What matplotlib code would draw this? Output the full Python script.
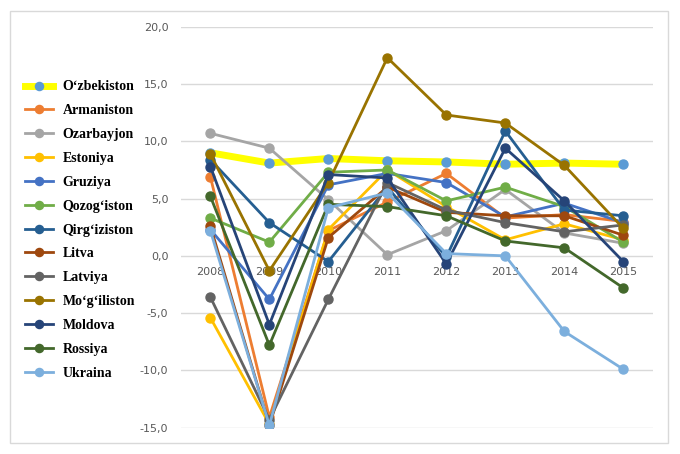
import numpy as np
import matplotlib.pyplot as plt
from matplotlib.patches import Rectangle
from matplotlib.ticker import FuncFormatter
from matplotlib.transforms import offset_copy

years = ['2008', '2009', '2010', '2011', '2012', '2013', '2014', '2015']

countries = ['O‘zbekiston', 'Armaniston', 'Ozarbayjon', 'Estoniya', 'Gruziya',
             'Qozog‘iston', 'Qirg‘iziston', 'Litva', 'Latviya', 'Mo‘g‘iliston',
             'Moldova', 'Rossiya', 'Ukraina']

uzb = [9.0, 8.1, 8.5, 8.3, 8.2, 8.0, 8.1, 8.0]
arm = [6.9, -14.1, 2.2, 4.7, 7.2, 3.3, 3.6, 3.0]
aze = [10.7, 9.4, 4.9, 0.1, 2.2, 5.8, 2.0, 1.1]
est = [-5.4, -14.7, 2.3, 7.5, 4.3, 1.4, 2.8, 1.4]
geo = [2.3, -3.8, 6.2, 7.2, 6.4, 3.4, 4.6, 2.9]
kaz = [3.3, 1.2, 7.3, 7.5, 4.8, 6.0, 4.3, 1.2]
kgz = [8.4, 2.9, -0.5, 6.0, -0.1, 10.9, 4.0, 3.5]
ltu = [2.6, -14.8, 1.6, 6.0, 3.8, 3.5, 3.5, 1.8]
lva = [-3.6, -14.3, -3.8, 6.4, 4.0, 2.9, 2.1, 2.7]
mng = [8.9, -1.3, 6.4, 17.3, 12.3, 11.6, 7.9, 2.4]
mda = [7.8, -6.0, 7.1, 6.8, -0.7, 9.4, 4.8, -0.5]
rus = [5.2, -7.8, 4.5, 4.3, 3.5, 1.3, 0.7, -2.8]
ukr = [2.2, -14.8, 4.2, 5.5, 0.2, 0.0, -6.6, -9.9]

series = [uzb, arm, aze, est, geo, kaz, kgz, ltu, lva, mng, mda, rus, ukr]
colors = ['#5B9BD5', '#ED7D31', '#A5A5A5', '#FFC000', '#4472C4', '#70AD47',
          '#255E91', '#9E480E', '#636363', '#997300', '#264478', '#43682B', '#7CAFDD']

fig = plt.figure(figsize=(6.8, 4.54), dpi=100)
ax = fig.add_axes([0.266, 0.058, 0.694, 0.883])

x = np.arange(len(years))
for i, (name, vals, c) in enumerate(zip(countries, series, colors)):
    if i == 0:
        # Uzbekistan: thick yellow line, blue markers
        ax.plot(x, vals, color='#FFFF00', lw=5, marker='o', ms=6.5,
                mfc=c, mec=c, label=name, zorder=2)
    else:
        ax.plot(x, vals, color=c, lw=2, marker='o', ms=6.5, mfc=c, mec=c,
                label=name, zorder=2 + i)

ax.set_xlim(-0.5, 7.5)
ax.set_ylim(-15, 20)
ax.set_yticks(np.arange(-15, 21, 5))
ax.yaxis.set_major_formatter(FuncFormatter(lambda v, p: f'{v:.1f}'.replace('.', ',')))
ax.tick_params(axis='y', length=0, pad=9, labelsize=8, labelcolor='#595959')
ax.set_xticks([])
ax.grid(axis='y', color='#D9D9D9', lw=1)
ax.set_axisbelow(True)
for s in ax.spines.values():
    s.set_visible(False)

# category labels sit just under the zero line
trans = offset_copy(ax.transData, fig=fig, x=0, y=-8, units='points')
for i, yr in enumerate(years):
    ax.text(i, 0, yr, transform=trans, ha='center', va='top',
            fontsize=8, color='#595959', zorder=1)

fig.legend(loc='upper left', bbox_to_anchor=(25 / 680, 1 - 80.5 / 454),
           frameon=False, borderpad=0, borderaxespad=0, handlelength=2.0,
           handletextpad=0.72, labelspacing=0.78, markerscale=0.9,
           prop={'family': 'Liberation Serif', 'weight': 'bold', 'size': 10})

fig.add_artist(Rectangle((10 / 680, 11 / 454), 658 / 680, 432 / 454,
                         transform=fig.transFigure, fill=False,
                         edgecolor='#D9D9D9', lw=1))

fig.savefig('out.png', dpi=100)
